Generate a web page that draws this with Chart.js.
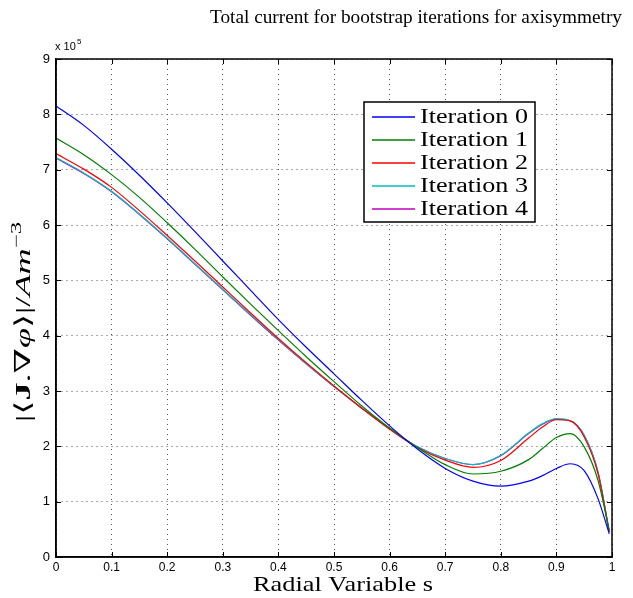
<!DOCTYPE html>
<html>
<head>
<meta charset="utf-8">
<script src="https://cdn.jsdelivr.net/npm/chart.js@4"></script>
<style>
  html, body { margin: 0; padding: 0; background: #fff; }
  #wrap { width: 633px; height: 598px; }
</style>
</head>
<body>
<div id="wrap"><canvas id="currentChart" width="633" height="598"></canvas></div>
<script>
// radial variable s (shared by all iterations)
const sValues = [0, 0.05, 0.1, 0.15, 0.2, 0.25, 0.3, 0.35, 0.4, 0.45, 0.5, 0.55, 0.6, 0.65,
                 0.7, 0.75, 0.8, 0.85, 0.875, 0.9, 0.925, 0.95, 0.975, 0.995];
// |<J.grad phi>| in units of 1e5 A m^-3
const iter0 = [8.15, 7.80, 7.37, 6.90, 6.40, 5.88, 5.35, 4.82, 4.29, 3.79, 3.31, 2.83, 2.37, 1.95,
               1.60, 1.37, 1.28, 1.37, 1.47, 1.60, 1.685, 1.56, 1.05, 0.42];
const iter1 = [7.57, 7.27, 6.91, 6.50, 6.04, 5.56, 5.06, 4.57, 4.09, 3.62, 3.17, 2.73, 2.33, 1.98,
               1.67, 1.50, 1.55, 1.76, 1.96, 2.16, 2.23, 1.99, 1.38, 0.48];
const iter2 = [7.29, 7.01, 6.68, 6.26, 5.81, 5.35, 4.88, 4.41, 3.95, 3.51, 3.09, 2.69, 2.31, 1.98,
               1.75, 1.62, 1.745, 2.15, 2.35, 2.48, 2.46, 2.17, 1.50, 0.45];
const iter3 = [7.22, 6.94, 6.61, 6.20, 5.76, 5.30, 4.84, 4.38, 3.93, 3.49, 3.08, 2.69, 2.32, 1.99,
               1.78, 1.67, 1.84, 2.24, 2.41, 2.50, 2.46, 2.20, 1.53, 0.46];
const iter4 = [7.21, 6.93, 6.60, 6.19, 5.75, 5.29, 4.83, 4.37, 3.92, 3.49, 3.08, 2.69, 2.32, 1.99,
               1.78, 1.67, 1.83, 2.23, 2.40, 2.49, 2.46, 2.20, 1.53, 0.46];
const seriesLabels = ['Iteration 0', 'Iteration 1', 'Iteration 2', 'Iteration 3', 'Iteration 4'];
const seriesColors = ['#0000ff', '#008000', '#ff0000', '#00bfbf', '#bf00bf'];
const xTicks = [0, 0.1, 0.2, 0.3, 0.4, 0.5, 0.6, 0.7, 0.8, 0.9, 1];
const yTicks = [0, 1, 2, 3, 4, 5, 6, 7, 8, 9];

const series = [iter0, iter1, iter2, iter3, iter4];
const SERIF = '"Liberation Serif", "DejaVu Serif", serif';
const SANS = '"Liberation Sans", Arial, sans-serif';

function fitText(ctx, text, x, y, width, baseFont, size) {
    ctx.font = size + 'px ' + baseFont;
    const w = ctx.measureText(text).width;
    const s = width / w;
    ctx.save();
    ctx.translate(x, y);
    ctx.scale(s, 1);
    ctx.fillText(text, 0, 0);
    ctx.restore();
}

// frame, inward ticks, titles, legend
const decorations = {
    id: 'decorations',
    afterDraw(chart) {
        const { ctx, chartArea: a, scales } = chart;
        ctx.save();
        ctx.strokeStyle = '#000';
        ctx.lineWidth = 1;
        ctx.beginPath();
        xTicks.forEach(t => {
            const px = Math.round(scales.x.getPixelForValue(t)) + 0.5;
            ctx.moveTo(px, a.bottom); ctx.lineTo(px, a.bottom - 5);
            ctx.moveTo(px, a.top); ctx.lineTo(px, a.top + 5);
        });
        yTicks.forEach(t => {
            const py = Math.round(scales.y.getPixelForValue(t)) + 0.5;
            ctx.moveTo(a.left, py); ctx.lineTo(a.left + 5, py);
            ctx.moveTo(a.right, py); ctx.lineTo(a.right - 5, py);
        });
        ctx.stroke();
        ctx.lineWidth = 1.5;
        ctx.strokeRect(a.left, a.top, a.right - a.left, a.bottom - a.top);

        ctx.fillStyle = '#000';
        ctx.textBaseline = 'alphabetic';
        ctx.textAlign = 'left';
        // title
        fitText(ctx, 'Total current for bootstrap iterations for axisymmetry', 210, 23, 412, SERIF, 18);
        // x axis title
        fitText(ctx, 'Radial Variable s', 253, 591, 180, SERIF, 21);
        // exponent
        ctx.font = '11px ' + SANS;
        ctx.fillText('x 10', 55, 50);
        ctx.font = '8px ' + SANS;
        ctx.fillText('5', 77, 44);

        // y axis title, rotated
        ctx.save();
        ctx.translate(30, 422);
        ctx.rotate(-Math.PI / 2);
        const parts = [
            ['|\u27E8', '22px ' + SERIF, 0],
            ['J', 'bold 22px ' + SERIF, 0],
            ['.\u2207', '22px ' + SERIF, 0],
            ['\u03C6', 'italic 22px ' + SERIF, 0],
            ['\u27E9|/', '22px ' + SERIF, 0],
            ['Am', 'italic 22px ' + SERIF, 0],
            ['\u22123', '15px ' + SERIF, -9]
        ];
        let total = 0;
        parts.forEach(p => { ctx.font = p[1]; total += ctx.measureText(p[0]).width; });
        const k = 200 / total;
        ctx.scale(k, 1);
        let cx = 0;
        parts.forEach(p => {
            ctx.font = p[1];
            ctx.fillText(p[0], cx, p[2]);
            cx += ctx.measureText(p[0]).width;
        });
        ctx.restore();

        // legend box
        ctx.fillStyle = '#fff';
        ctx.fillRect(364, 102, 171, 120);
        ctx.lineWidth = 1.5;
        ctx.strokeStyle = '#000';
        ctx.strokeRect(364, 102, 171, 120);
        chart.data.datasets.forEach((ds, i) => {
            const y = 117 + i * 23;
            ctx.strokeStyle = ds.borderColor;
            ctx.lineWidth = 1.6;
            ctx.beginPath();
            ctx.moveTo(372, y); ctx.lineTo(415, y);
            ctx.stroke();
            ctx.fillStyle = '#000';
            ctx.textBaseline = 'middle';
            fitText(ctx, ds.label, 420, y + 1, 108, SERIF, 20);
        });
        ctx.restore();
    }
};

new Chart(document.getElementById('currentChart').getContext('2d'), {
    type: 'line',
    data: {
        datasets: series.map((vals, i) => ({
            label: seriesLabels[i],
            data: sValues.map((s, j) => ({ x: s, y: vals[j] })),
            borderColor: seriesColors[i],
            borderWidth: 1.2,
            pointRadius: 0,
            cubicInterpolationMode: 'monotone',
            fill: false
        }))
    },
    options: {
        responsive: false,
        animation: false,
        layout: { padding: { top: 59, right: 21, left: 0, bottom: 0 } },
        plugins: {
            legend: { display: false },
            title: { display: false },
            tooltip: { enabled: false }
        },
        scales: {
            x: {
                type: 'linear',
                min: 0,
                max: 1,
                afterBuildTicks: scale => { scale.ticks = xTicks.map(v => ({ value: v })); },
                afterFit: scale => { scale.height = 41; },
                ticks: {
                    color: '#000',
                    font: { family: SANS, size: 12 },
                    padding: 3,
                    maxRotation: 0,
                    callback: v => String(Math.round(v * 10) / 10)
                },
                grid: { color: '#555', drawTicks: false, lineWidth: 1 },
                border: { color: '#000', width: 1.5, dash: [1, 4] }
            },
            y: {
                type: 'linear',
                min: 0,
                max: 9,
                afterBuildTicks: scale => { scale.ticks = yTicks.map(v => ({ value: v })); },
                afterFit: scale => { scale.width = 56; },
                ticks: {
                    color: '#000',
                    font: { family: SANS, size: 13 },
                    padding: 6,
                    callback: v => String(v)
                },
                grid: { color: '#555', drawTicks: false, lineWidth: 1 },
                border: { color: '#000', width: 1.5, dash: [1, 4] }
            }
        }
    },
    plugins: [decorations]
});
</script>
</body>
</html>
